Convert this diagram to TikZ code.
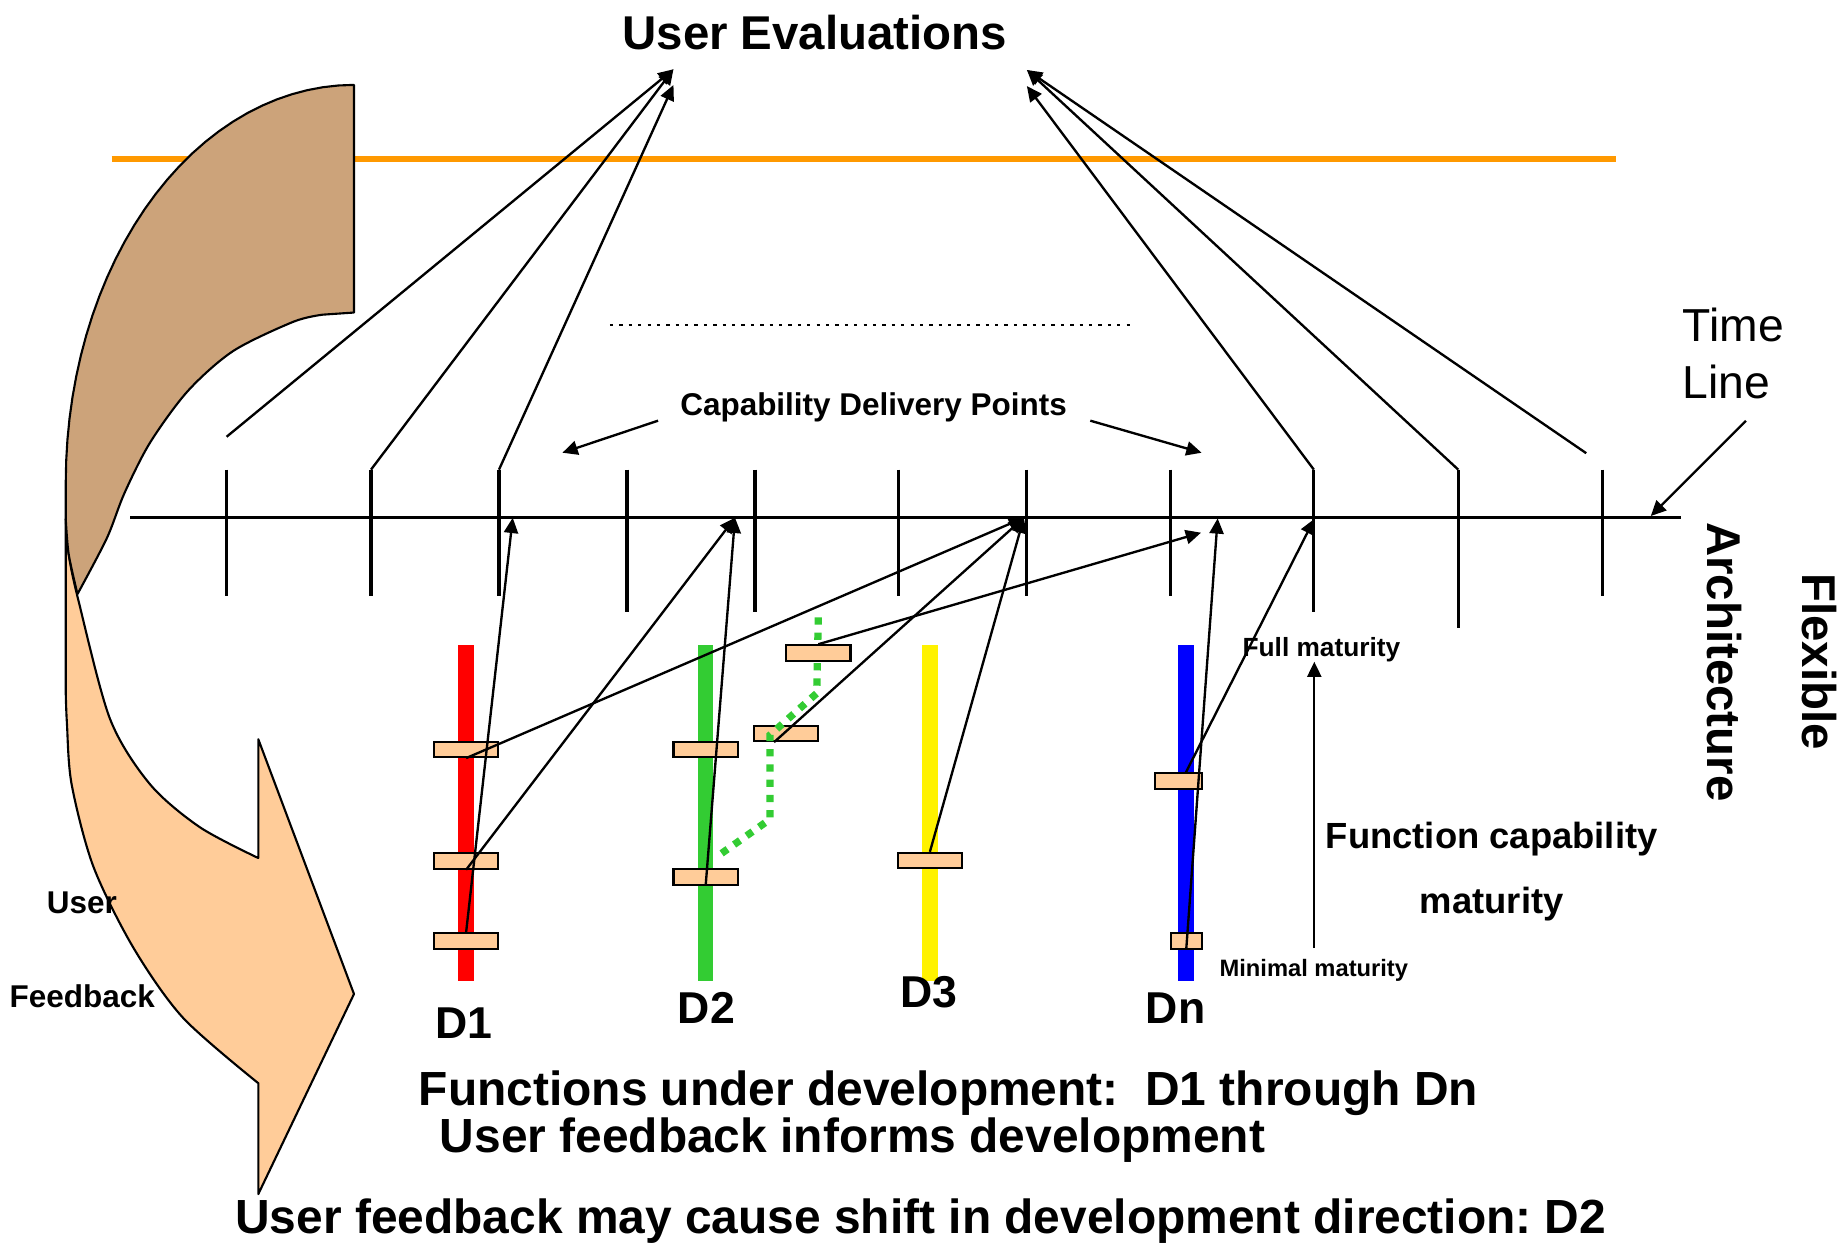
\documentclass[tikz,border=0pt]{standalone}
\usepackage{fontspec}
\setmainfont{Liberation Sans}
\usetikzlibrary{arrows.meta}

\definecolor{peach}{HTML}{FFCC99}
\definecolor{sand}{HTML}{CCA37A}
\definecolor{amber}{HTML}{FF9900}
\definecolor{leaf}{HTML}{33CC33}

\begin{document}
\frenchspacing
\begin{tikzpicture}[x=0.5pt, y=-0.5pt,
    >={Triangle[length=6.5pt,width=6pt]},
    lbl/.style={font=\bfseries\fontsize{#1}{#1}\selectfont, inner sep=0pt},
    txt/.style={font=\fontsize{#1}{#1}\selectfont, inner sep=0pt},
    tick/.style={line width=1.4pt},
    arr/.style={line width=1pt, ->},
    bar/.style={line width=6.5pt},
    stage/.style={draw, fill=peach, line width=0.9pt, minimum width=27.4pt,
                  minimum height=6.6pt, inner sep=0pt},
    shell/.style={draw, line width=0.9pt, line join=round}]
  \useasboundingbox (0,0) rectangle (1568,1058);

  % horizon line
  \draw[amber, line width=2.8pt] (95,135.4) -- (1376,135.4);

  % curved feedback arrow, front part with the head
  \filldraw[shell, fill=peach] (56,442)
    -- plot[smooth] coordinates {(56,590) (57,616) (61,668) (79.5,738) (113.5,807) (156,867) (220,922.6)}
    -- (220,1017) -- (301.5,846.6) -- (220,629.6)
    -- plot[smooth] coordinates {(220,730.8) (170.3,704.6) (127.8,668) (93.7,612.3) (66.7,511) (58.5,472) (56,442)}
    -- cycle;
  % curved feedback arrow, back part
  \filldraw[shell, fill=sand] (301.5,72.3) -- (301.5,266.2)
    -- plot[smooth] coordinates {(275,268) (250,274) (198.7,298.9) (160,333) (127.8,377) (106,420) (90.9,458.6) (66,506)}
    -- plot[smooth] coordinates {(66,506) (58.5,472) (56,442)}
    -- (56,411)
    -- plot[domain=0:90, variable=\s, samples=30] ({301.5-245.5*cos(\s)}, {411-338.7*sin(\s)})
    -- cycle;

  % time line with delivery ticks
  \draw[line width=1.4pt] (111,440.5) -- (1432,440.5);
  \foreach \x/\b [count=\i] in {193/508,316/508,425/508,534/521,643/521,765/508,874/508,997/508,1119/521,1242/535,1365/508}
    \draw[tick] (\x,400) coordinate (k\i) -- (\x,\b);

  % evaluations
  \node[lbl=20.2, anchor=base] (ue) at (694,42) {User Evaluations};
  \coordinate (ueA) at (573.6,59);
  \coordinate (ueB) at (573.6,72.4);
  \coordinate (ueC) at (874.6,59.6);
  \coordinate (ueD) at (874.6,73.3);
  \coordinate (lA) at (193,372);
  \coordinate (lF) at (1351,386);
  \draw[arr] (lA) -- (ueA);
  \draw[arr] (k2) -- (ueA);
  \draw[arr] (k3) -- (ueB);
  \draw[arr] (k9) -- (ueD);
  \draw[arr] (k10) -- (ueC);
  \draw[arr] (lF) -- (ueC);

  \draw[line width=1pt, dash pattern=on 1.4pt off 2.6pt] (519.5,276.8) -- (967.3,276.8);

  \node[lbl=13.4, anchor=base] (cdp) at (744,354.3) {Capability Delivery Points};
  \coordinate (cdpL) at (560.5,358.3);
  \coordinate (cdpR) at (928.6,358.3);
  \coordinate (cpL) at (479,385.6);
  \coordinate (cpR) at (1023.4,385.6);
  \draw[arr] (cdpL) -- (cpL);
  \draw[arr] (cdpR) -- (cpR);

  \node[txt=19.7, anchor=base west] (tlA) at (1433,290.6) {Time};
  \node[txt=19.7, anchor=base west] (tlB) at (1433,339.5) {Line};
  \coordinate (tlFrom) at (1487,358.4);
  \coordinate (tlTo) at (1406,439.5);
  \draw[arr] (tlFrom) -- (tlTo);

  \node[lbl=20.2, rotate=-90, anchor=base] (flex) at (1535,563.6) {Flexible};
  \node[lbl=20.2, rotate=-90, anchor=base] (arch) at (1454.5,563.6) {Architecture};

  % functions under development
  \foreach \x/\c in {397/red, 601/leaf, 792/yellow, 1010.2/blue}
    \draw[bar, \c] (\x,549.4) -- (\x,835.3);

  \node[stage] (d1a) at (397,638.2) {};
  \node[stage] (d1b) at (397,733.3) {};
  \node[stage] (d1c) at (397,801.5) {};
  \node[stage] (d2a) at (601,638.2) {};
  \node[stage] (d2b) at (601,747) {};
  \node[stage] (d2y) at (669.3,624.6) {};
  \node[stage] (d3a) at (792,733) {};
  \node[stage, minimum width=20pt] (dna) at (1003.5,665.2) {};
  \node[stage, minimum width=13.1pt] (dnb) at (1010.3,801.5) {};
  % D2 changes direction
  \draw[leaf, line width=3.1pt, dash pattern=on 3.1pt off 3.4pt]
    (614.6,726.8) -- (655.8,697.8) -- (655.8,626) -- (695.6,590.5) -- (697,523.8);
  \node[stage] (d2x) at (697,556.2) {};

  \coordinate (t1) at (436.7,441);
  \coordinate (t2) at (626,441);
  \coordinate (t3) at (872,441);
  \coordinate (t4) at (1022.9,453.7);
  \coordinate (t5) at (1037.1,441.5);
  \coordinate (t6) at (1119.4,442);
  \draw[arr] (d1c.north) -- (t1);
  \draw[arr] (d1b.south) -- (t2);
  \draw[arr] (d2b.south) -- (t2);
  \draw[arr] (d1a.south) -- (t3);
  \draw[arr] ([xshift=-5pt]d2y.south) -- (t3);
  \draw[arr] (d3a.north) -- (t3);
  \draw[arr] (d2x.north) -- (t4);
  \draw[arr] (dnb.south) -- (t5);
  \draw[arr] ([xshift=3.3pt]dna.north) -- (t6);

  \node[lbl=19, anchor=base] (n1) at (395.4,884.4) {D1};
  \node[lbl=19, anchor=base] (n2) at (601.6,871.6) {D2};
  \node[lbl=19, anchor=base] (n3) at (791,858.5) {D3};
  \node[lbl=19, anchor=base] (nn) at (1001.3,871.6) {Dn};

  % maturity scale
  \node[lbl=11.2, anchor=base] (fullm) at (1125.5,559.3) {Full maturity};
  \node[lbl=10.1, anchor=base] (minm) at (1119,831.9) {Minimal maturity};
  \coordinate (mlo) at (1119.4,807.6);
  \coordinate (mhi) at (1119.4,563.6);
  \draw[arr] (mlo) -- (mhi);
  \node[lbl=15.5, anchor=base] (fcA) at (1270.5,722.5) {Function capability};
  \node[lbl=15.5, anchor=base] (fcB) at (1270.5,777.9) {maturity};

  \node[lbl=13.4, anchor=base] (fbA) at (69.7,778) {User};
  \node[lbl=13.4, anchor=base] (fbB) at (70,857.7) {Feedback};

  \node[lbl=20.4, anchor=base west] (sumA) at (356.3,941.2) {Functions under development:\ \ D1 through Dn};
  \node[lbl=20.4, anchor=base west] (sumB) at (374.2,981.8) {User feedback informs development};
  \node[lbl=20.4, anchor=base west] (sumC) at (200,1050.5) {User feedback may cause shift in development direction: D2};
\end{tikzpicture}
\end{document}
